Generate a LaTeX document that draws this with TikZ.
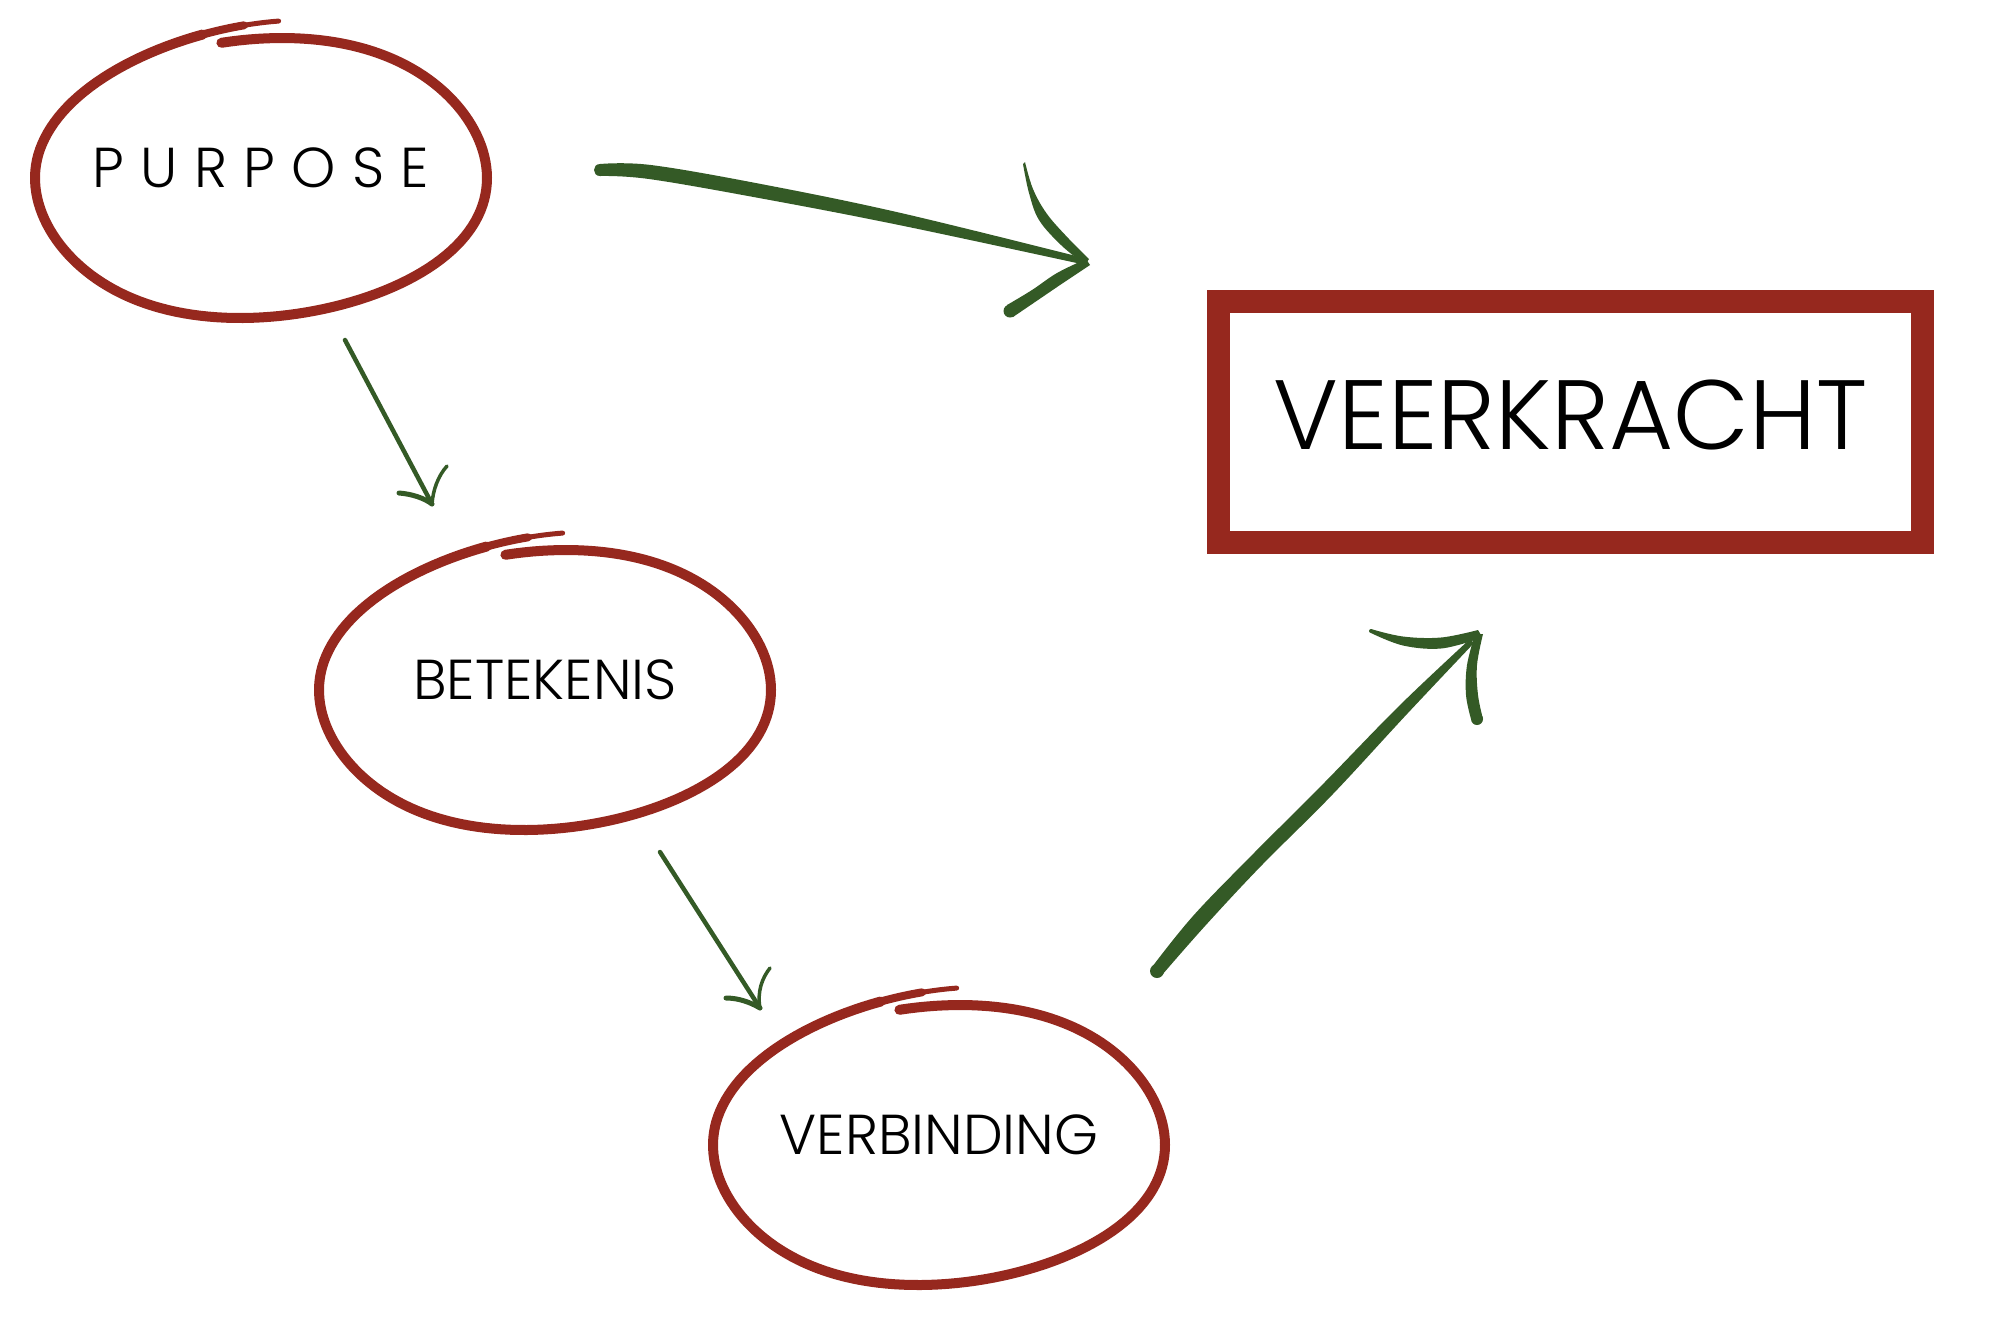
\documentclass[tikz,border=0pt]{standalone}
\usepackage{fontspec}
\setmainfont{Poppins Light}
\usetikzlibrary{calc}
\definecolor{ringred}{RGB}{150,40,30}
\definecolor{brushgreen}{RGB}{52,90,38}
\newcommand\ringat[1]{%
\begin{scope}[shift={($(#1)+(0,10)$)}]
\draw[ringstroke, line width=0.1cm] plot[domain=-105:250, samples=160, variable=\t] ({ex(\t)}, {ey(\t)});
\draw[ringstroke, line width=0.08cm] plot[domain=248:260, samples=12, variable=\t] ({ex(\t)}, {ey(\t)});
\draw[ringstroke, line width=0.05cm] plot[domain=258:268.5, samples=12, variable=\t] ({ex(\t)}, {ey(\t)});
\end{scope}}
\newcommand\trk{\kern0.163cm\relax}
\begin{document}
\begin{tikzpicture}[x=0.01cm,y=-0.01cm,
  declare function={rr(\t)=140+17*max(0,\t-195)/73.5;
                    ex(\t)=226*cos(\t)-0.15*rr(\t)*sin(\t)*sin(\t)*sin(\t);
                    ey(\t)=rr(\t)*sin(\t);},
  lbl/.style={inner sep=0pt, font=\fontsize{16}{16}\selectfont},
  ringstroke/.style={draw=ringred, line cap=round, line join=round},
  brush/.style={draw=brushgreen, line cap=round, line join=round},
  brushfill/.style={fill=brushgreen},
]
\useasboundingbox (0,0) rectangle (2000,1323);

% text nodes
\node[lbl] (purpose) at (261,168) {P\trk U\trk R\trk P\trk O\trk S\trk E};
\node[lbl] (betekenis) at (545,680) {BETEKENIS};
\node[lbl] (verbinding) at (939,1135) {VERBINDING};
\node[draw=ringred, line width=0.23cm, minimum width=7.04cm, minimum height=2.41cm,
      inner sep=0pt, text depth=0.14cm, font=\fontsize{28}{28}\selectfont]
      (veerkracht) at (1570.5,422) {VEERKRACHT};

% hand-drawn rings
\ringat{purpose}
\ringat{betekenis}
\ringat{verbinding}

% arrow 1: purpose -> veerkracht (brush stroke)
\coordinate (a1s) at (600,170);
\coordinate (a1t) at (1087,262);
\coordinate (a1u) at (1024,163);
\coordinate (a1l) at (1010,311);
\fill[brushfill] plot[smooth, tension=0.6] coordinates {(600,164) (651,165) (761,184) (901,213) (1088,259)}
   -- (a1t) -- plot[smooth, tension=0.6] coordinates {(1086,265) (899,225) (759,198) (649,179) (600,176)}
   .. controls (592,176) and (592,164) .. cycle;
\fill[brushfill] plot[smooth, tension=0.6] coordinates {(1025,162) (1033,189) (1047,214) (1069,239) (1089,259)}
   -- (a1t) -- plot[smooth, tension=0.6] coordinates {(1083,263) (1061,245) (1039,220) (1029,193) (1023,164)} -- cycle;
\fill[brushfill] plot[smooth, tension=0.6] coordinates {(1090,265) (1063,283) (1038,300) (1013,317)}
   -- plot[smooth, tension=0.6] coordinates {(1007,305) (1032,290) (1057,273) (1086,259)} -- cycle;
\fill[brushfill] (a1l) circle (6.5);

% arrow 2: purpose -> betekenis
\coordinate (a2s) at (345,340);
\coordinate (a2t) at (432,504);
\coordinate (a2l) at (399,493);
\coordinate (a2r) at (447,466);
\draw[brush, line width=0.045cm] (a2s) -- (a2t);
\draw[brush, line width=0.05cm] (a2l) .. controls (412,494) and (424,498) .. (a2t);
\draw[brush, line width=0.035cm] (a2r) .. controls (438,476) and (433,490) .. (a2t);

% arrow 3: betekenis -> verbinding
\coordinate (a3s) at (660,852);
\coordinate (a3t) at (760,1008);
\coordinate (a3l) at (726,998);
\coordinate (a3r) at (770,968);
\draw[brush, line width=0.045cm] (a3s) -- (a3t);
\draw[brush, line width=0.05cm] (a3l) .. controls (738,998) and (750,1002) .. (a3t);
\draw[brush, line width=0.035cm] (a3r) .. controls (762,978) and (757,992) .. (a3t);

% arrow 4: verbinding -> veerkracht (brush stroke)
\coordinate (a4s) at (1157,971);
\coordinate (a4t) at (1478,634);
\coordinate (a4u) at (1371,631);
\coordinate (a4d) at (1477,719);
\fill[brushfill] plot[smooth, tension=0.6] coordinates {(1162,975) (1205,926) (1261,866) (1332,795) (1407,714) (1474,643)}
   -- plot[smooth, tension=0.6] coordinates {(1470,639) (1399,706) (1322,785) (1251,856) (1193,916) (1152,967)} -- cycle;
\fill[brushfill] (a4s) circle (7);
\fill[brushfill] plot[smooth, tension=0.6] coordinates {(1371,629) (1403,636.5) (1441,637.5) (1478,630)}
   -- (1481,635) -- plot[smooth, tension=0.6] coordinates {(1478,639) (1441,648.5) (1403,645.5) (1371,633)} -- cycle;
\fill[brushfill] (a4u) circle (2);
\fill[brushfill] plot[smooth, tension=0.6] coordinates {(1475,634) (1467,665) (1466,695) (1471,719)}
   -- plot[smooth, tension=0.6] coordinates {(1483,719) (1478,695) (1477,665) (1483,634)} -- cycle;
\fill[brushfill] (a4d) circle (6);
\end{tikzpicture}
\end{document}
